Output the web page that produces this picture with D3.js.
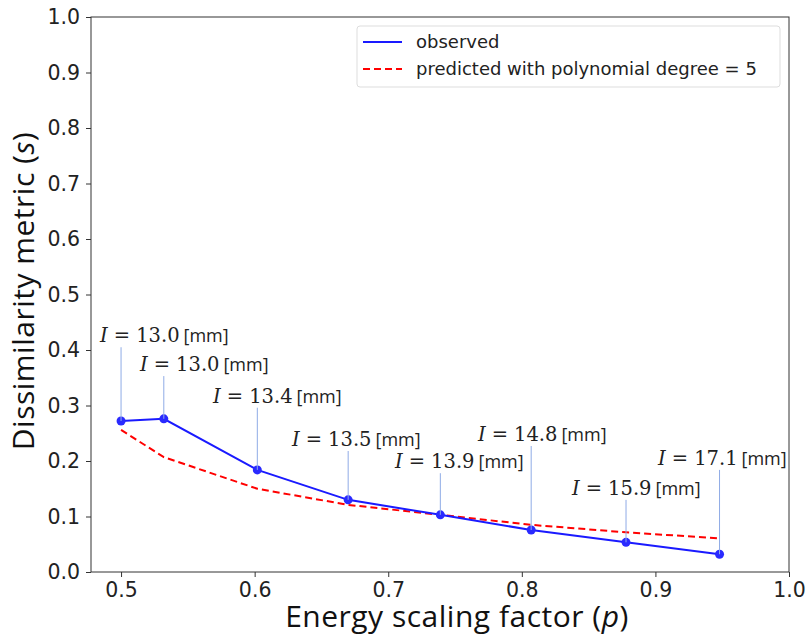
<!DOCTYPE html>
<html><head><meta charset="utf-8">
<script src="https://cdn.jsdelivr.net/npm/d3@7"></script>
<style>body{margin:0;background:#fff}</style>
</head><body>
<script>
const pValues = [0.5, 0.532, 0.602, 0.670, 0.739, 0.807, 0.878, 0.948];
const observed = [0.272, 0.276, 0.184, 0.130, 0.103, 0.0757, 0.0535, 0.032];
const predicted = [0.256, 0.207, 0.150, 0.121, 0.103, 0.085, 0.0715, 0.0607];
const intensity = ["13.0", "13.0", "13.4", "13.5", "13.9", "14.8", "15.9", "17.1"];
// annotation text anchor (left x, baseline y) in data coordinates
const labelP = [0.4843, 0.5142, 0.5689, 0.628, 0.7051, 0.7672, 0.8376, 0.902];
const labelS = [0.414, 0.362, 0.305, 0.227, 0.187, 0.236, 0.139, 0.193];
const xTicks = [0.5, 0.6, 0.7, 0.8, 0.9, 1.0];
const yTicks = [0.0, 0.1, 0.2, 0.3, 0.4, 0.5, 0.6, 0.7, 0.8, 0.9, 1.0];
const seriesNames = ["observed", "predicted with polynomial degree = 5"];

const W = 808, H = 637;
const L = 91, T = 17, R = 789, B = 572;
const svg = d3.select("body").append("svg").attr("width", W).attr("height", H);
const x = d3.scaleLinear().domain([0.4775, 1.0]).range([L, R]);
const y = d3.scaleLinear().domain([0, 1]).range([B, T]);

const tickFont = "DejaVu Sans";
// axes
const xAxis = svg.append("g").attr("transform", `translate(0,${B})`)
  .call(d3.axisBottom(x).tickValues(xTicks).tickFormat(d3.format(".1f")).tickSizeOuter(0).tickSize(5).tickPadding(5));
const yAxis = svg.append("g").attr("transform", `translate(${L},0)`)
  .call(d3.axisLeft(y).tickValues(yTicks).tickFormat(d3.format(".1f")).tickSizeOuter(0).tickSize(5).tickPadding(6));
[xAxis, yAxis].forEach(g => {
  g.select(".domain").remove();
  g.selectAll("text").attr("font-family", tickFont).attr("font-size", 20.5).attr("fill", "#222");
  g.selectAll("line").attr("stroke", "#333");
});
// frame
svg.append("rect").attr("x", L).attr("y", T).attr("width", R - L).attr("height", B - T)
  .attr("fill", "none").attr("stroke", "#333").attr("stroke-width", 1);

// predicted
svg.append("path").datum(pValues.map((p, i) => [p, predicted[i]]))
  .attr("d", d3.line().x(d => x(d[0])).y(d => y(d[1])))
  .attr("fill", "none").attr("stroke", "#ff0000").attr("stroke-width", 2).attr("stroke-dasharray", "7,4");
// observed
svg.append("path").datum(pValues.map((p, i) => [p, observed[i]]))
  .attr("d", d3.line().x(d => x(d[0])).y(d => y(d[1])))
  .attr("fill", "none").attr("stroke", "#1a1aff").attr("stroke-width", 2);
svg.selectAll("circle.pt").data(pValues).enter().append("circle").attr("class", "pt")
  .attr("cx", d => x(d)).attr("cy", (d, i) => y(observed[i])).attr("r", 4.5).attr("fill", "#2a2aff");

// annotations
pValues.forEach((p, i) => {
  svg.append("line").attr("x1", x(p)).attr("x2", x(p))
    .attr("y1", y(labelS[i]) + 5).attr("y2", y(observed[i]))
    .attr("stroke", "#8fabe6").attr("stroke-width", 1);
  const t = svg.append("text").attr("x", x(labelP[i])).attr("y", y(labelS[i])).attr("fill", "#222");
  t.append("tspan").attr("font-family", "DejaVu Serif").attr("font-style", "italic").attr("font-size", 19.5).text("I");
  t.append("tspan").attr("font-family", "DejaVu Serif").attr("font-size", 19.5).attr("dx", 6).text("=");
  t.append("tspan").attr("font-family", "DejaVu Serif").attr("font-size", 19.5).attr("dx", 6).text(intensity[i]);
  t.append("tspan").attr("font-family", "Open Sans").attr("font-size", 18).attr("dx", 4).text("[mm]");
});

// axis labels
svg.append("text").attr("x", 457).attr("y", 627).attr("text-anchor", "middle")
  .attr("font-family", "Open Sans").attr("font-size", 30).attr("letter-spacing", 0.5).attr("fill", "#111")
  .html('Energy scaling factor (<tspan font-style="italic">p</tspan>)');
svg.append("text").attr("transform", `translate(34,291) rotate(-90)`).attr("text-anchor", "middle")
  .attr("font-family", "Open Sans").attr("font-size", 30).attr("letter-spacing", 0.5).attr("fill", "#111")
  .html('Dissimilarity metric (<tspan font-style="italic">s</tspan>)');

// legend
const lg = svg.append("g");
lg.append("rect").attr("x", 357).attr("y", 26).attr("width", 423).attr("height", 61).attr("rx", 3)
  .attr("fill", "#fff").attr("stroke", "#ddd");
const lgColors = ["#1a1aff", "#ff0000"];
const lgDash = [null, "7,4"];
seriesNames.forEach((n, i) => {
  const yy = 42 + i * 27;
  lg.append("line").attr("x1", 363).attr("x2", 402).attr("y1", yy).attr("y2", yy)
    .attr("stroke", lgColors[i]).attr("stroke-width", 2).attr("stroke-dasharray", lgDash[i]);
  lg.append("text").attr("x", 416).attr("y", yy + 6).attr("font-family", "DejaVu Sans").attr("font-size", 18)
    .attr("fill", "#222").text(n);
});
</script>
</body></html>
